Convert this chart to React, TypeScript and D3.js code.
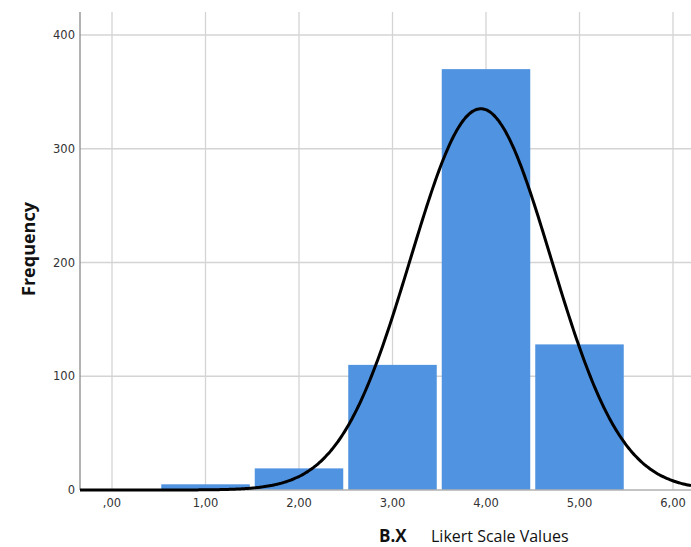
import React from "react";
import * as d3 from "d3";

const binCenters = [1, 2, 3, 4, 5];
const frequencies = [5, 19, 110, 370, 128];
const xTicks = [0, 1, 2, 3, 4, 5, 6];
const xTickLabels = [",00", "1,00", "2,00", "3,00", "4,00", "5,00", "6,00"];
const yTicks = [0, 100, 200, 300, 400];

const W = 691;
const H = 547;
const left = 80;
const right = 691;
const top = 12;
const bottom = 490;

export default function App() {
  const x = d3.scaleLinear().domain([0, 6]).range([112, 673]);
  const y = d3.scaleLinear().domain([0, 400]).range([bottom, 35]);

  const n = d3.sum(frequencies);
  const mean = d3.sum(binCenters.map((c, i) => c * frequencies[i])) / n;
  const variance =
    d3.sum(binCenters.map((c, i) => frequencies[i] * (c - mean) ** 2)) / (n - 1);
  const sd = Math.sqrt(variance);
  const x0 = x.invert(left);
  const x1 = x.invert(right);
  const pts: [number, number][] = d3.range(0, 401).map((i) => {
    const v = x0 + ((x1 - x0) * i) / 400;
    const dens = (n / (sd * Math.sqrt(2 * Math.PI))) * Math.exp(-((v - mean) ** 2) / (2 * sd * sd));
    return [v, dens];
  });
  const line = d3
    .line<[number, number]>()
    .x((d) => x(d[0]))
    .y((d) => y(d[1]))
    .curve(d3.curveBasis);

  const tickFont = "'DejaVu Sans', sans-serif";

  return (
    <svg width={W} height={H} style={{ position: "absolute", left: 0, top: 0, background: "#fff" }}>
      <defs>
        <clipPath id="plot">
          <rect x={left} y={0} width={right - left} height={bottom + 3} />
        </clipPath>
      </defs>
      {/* grid */}
      {yTicks.filter((t) => t > 0).map((t) => (
        <line key={"gy" + t} x1={left} x2={right} y1={y(t)} y2={y(t)} stroke="#d4d4d4" strokeWidth={1.3} />
      ))}
      {xTicks.map((t) => (
        <line key={"gx" + t} x1={x(t)} x2={x(t)} y1={top} y2={bottom} stroke="#d4d4d4" strokeWidth={1.3} />
      ))}
      {/* bars */}
      {binCenters.map((c, i) => (
        <rect
          key={"b" + c}
          x={x(c - 0.5) + 2.5}
          width={x(c + 0.5) - x(c - 0.5) - 5}
          y={y(frequencies[i])}
          height={y(0) - y(frequencies[i])}
          fill="#5093e0"
        />
      ))}
      {/* axes */}
      <line x1={left} x2={right} y1={bottom} y2={bottom} stroke="#b0b0b0" strokeWidth={1.3} />
      <line x1={left} x2={left} y1={top} y2={bottom} stroke="#8a8a8a" strokeWidth={1.3} />
      {/* curve */}
      <g clipPath="url(#plot)">
        <path d={line(pts) || ""} fill="none" stroke="#000" strokeWidth={3} />
      </g>
      {/* tick labels */}
      {yTicks.map((t) => (
        <text key={"ty" + t} x={left - 5} y={y(t) + 4} textAnchor="end" fontFamily={tickFont} fontSize={11.5} fill="#333">
          {t}
        </text>
      ))}
      {xTicks.map((t, i) => (
        <text key={"tx" + t} x={x(t)} y={bottom + 17} textAnchor="middle" fontFamily={tickFont} fontSize={11.5} fill="#333">
          {xTickLabels[i]}
        </text>
      ))}
      {/* axis titles */}
      <text
        transform={`translate(35, 249) rotate(-90)`}
        textAnchor="middle"
        fontFamily="'Open Sans', sans-serif"
        fontWeight="bold"
        fontSize={18}
        fill="#111"
      >
        Frequency
      </text>
      <text x={379} y={542} fontFamily="'Open Sans', sans-serif" fontWeight="bold" fontSize={17} fill="#111">
        B.X
      </text>
      <text x={431} y={542} fontFamily="'Open Sans', sans-serif" fontSize={16} fill="#111">
        Likert Scale Values
      </text>
    </svg>
  );
}
